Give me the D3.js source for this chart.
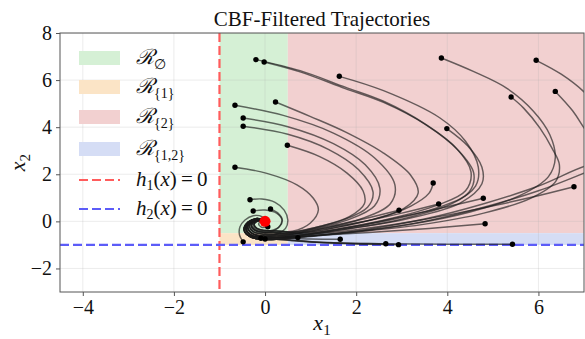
<!DOCTYPE html>
<html>
<head>
<meta charset="utf-8">
<script src="https://cdn.jsdelivr.net/npm/d3@7"></script>
<style>
  body { margin: 0; background: #fff; }
  svg text { font-family: "Liberation Serif", "Times New Roman", serif; fill: #111; }
</style>
</head>
<body>
<svg id="chart" width="585" height="339"></svg>
<script>
// ---- data ----
const xTicks = [-4, -2, 0, 2, 4, 6];
const yTicks = [-2, 0, 2, 4, 6, 8];

// regions: subscripts and their boxes in data coords
const regionLabels = ["\u2205", "{1}", "{2}", "{1,2}"];
const regionX = [[-1, 0.5], [-1, 0.5], [0.5, 7], [0.5, 7]];
const regionY = [[-0.5, 8], [-1, -0.5], [-0.5, 8], [-1, -0.5]];

// barrier lines h1(x)=0 (x1 = -1) and h2(x)=0 (x2 = -1)
const h1Line = -1;
const h2Line = -1;

// endings around the equilibrium, outermost loop first
const tail1 = [[0.25, -0.76], [0.0, -0.77], [-0.32, -0.66], [-0.46, -0.35], [-0.37, -0.03], [-0.17, 0.12], [0, 0]];
const tail2 = [[0.25, -0.69], [0.0, -0.7], [-0.3, -0.59], [-0.42, -0.3], [-0.33, -0.01], [-0.14, 0.1], [0, 0]];
const tail3 = [[0.25, -0.62], [0.0, -0.63], [-0.28, -0.52], [-0.38, -0.25], [-0.28, 0.0], [-0.11, 0.08], [0, 0]];
const tail4 = [[0.25, -0.55], [0.0, -0.55], [-0.25, -0.45], [-0.34, -0.2], [-0.24, 0.01], [-0.08, 0.06], [0, 0]];
const tail5 = [[0.25, -0.48], [0.0, -0.47], [-0.22, -0.37], [-0.3, -0.15], [-0.2, 0.02], [-0.06, 0.04], [0, 0]];
const tail6 = [[0.25, -0.41], [0.0, -0.39], [-0.18, -0.3], [-0.24, -0.12], [-0.15, 0.02], [-0.04, 0.03], [0, 0]];

// trajectories: first point is the start (black dot)
const trajUpperLeft = [
  [[-0.2, 6.87], [0.77, 6.4], [1.76, 5.7], [2.6, 5.1], [3.5, 4.15], [4.2, 3.1], [4.52, 2.1], [4.4, 1.3], [3.8, 0.7], [2.6, 0.05], [1.5, -0.35], [0.7, -0.6]],
  [[-0.02, 6.77], [0.77, 6.35], [1.76, 5.64], [2.6, 5.05], [3.55, 4.08], [4.25, 3.0], [4.58, 2.05], [4.48, 1.25], [3.85, 0.62], [2.6, 0.0], [1.5, -0.38], [0.7, -0.6]],
  [[1.63, 6.16], [2.6, 5.55], [3.84, 4.39], [4.4, 3.4], [4.68, 2.3], [4.62, 1.5], [4.1, 0.75], [2.9, 0.05], [1.7, -0.35], [0.7, -0.62]],
  [[0.23, 5.07], [1.0, 4.45], [1.76, 3.8], [2.6, 2.9], [3.2, 1.95], [3.36, 1.2], [3.05, 0.55], [2.2, 0.0], [1.3, -0.35], [0.6, -0.55]],
  [[-0.66, 4.93], [0.4, 4.5], [1.5, 3.75], [2.4, 2.7], [2.85, 1.55], [2.75, 0.75], [2.1, 0.1], [1.2, -0.33], [0.6, -0.55]],
  [[-0.48, 4.39], [0.5, 4.02], [1.5, 3.3], [2.2, 2.4], [2.52, 1.4], [2.4, 0.65], [1.8, 0.05], [1.0, -0.35], [0.55, -0.55]],
  [[-0.48, 4.04], [0.5, 3.7], [1.4, 3.05], [2.05, 2.2], [2.37, 1.25], [2.25, 0.6], [1.7, 0.05], [1.0, -0.3], [0.55, -0.48]],
  [[0.49, 3.23], [1.2, 2.75], [1.8, 2.05], [2.15, 1.3], [2.18, 0.75], [1.85, 0.2], [1.2, -0.22], [0.55, -0.48]],
  [[-0.66, 2.30], [0.04, 2.04], [0.70, 1.55], [1.06, 0.98], [1.17, 0.48], [0.99, -0.08], [0.6, -0.42]]
];
const tailsUpperLeft = [tail2, tail3, tail2, tail4, tail3, tail5, tail4, tail5, tail6];

const trajUpperRight = [
  [[3.87, 6.94], [4.57, 6.37], [5.30, 5.66], [5.89, 4.68], [6.25, 3.68], [6.37, 2.7], [6.22, 1.9], [5.6, 1.1], [4.5, 0.4], [3.2, -0.12], [2.0, -0.42], [0.9, -0.62]],
  [[5.40, 5.28], [5.67, 4.82], [6.03, 3.97], [6.3, 3.1], [6.46, 2.4], [6.38, 1.7], [5.85, 1.0], [4.8, 0.35], [3.4, -0.15], [2.0, -0.45], [0.9, -0.64]],
  [[5.95, 6.84], [6.5, 6.25], [7.0, 5.5], [7.5, 4.4], [7.8, 3.3], [7.55, 2.6], [7.0, 2.33], [6.0, 1.5], [4.8, 0.75], [3.5, 0.1], [2.2, -0.35], [1.0, -0.62]],
  [[6.37, 5.52], [6.75, 4.7], [7.0, 3.97], [7.35, 3.0], [7.3, 2.3], [7.0, 2.05], [6.0, 1.3], [4.8, 0.6], [3.5, 0.0], [2.2, -0.4], [1.0, -0.64]],
  [[3.99, 3.94], [4.45, 3.2], [4.76, 2.3], [4.76, 1.6], [4.3, 0.8], [3.1, 0.1], [1.9, -0.3], [0.8, -0.6]]
];
const tailsUpperRight = [tail2, tail1, tail2, tail1, tail3];

const trajLowerRight = [
  [[3.69, 1.63], [3.6, 1.2], [3.2, 0.65], [2.5, 0.15], [1.6, -0.2], [0.7, -0.5]],
  [[6.78, 1.47], [5.8, 1.0], [4.6, 0.5], [3.4, 0.05], [2.2, -0.3], [1.0, -0.55]],
  [[4.79, 0.98], [4.0, 0.62], [3.0, 0.2], [2.0, -0.2], [0.9, -0.52]],
  [[3.81, 0.74], [3.0, 0.35], [2.0, -0.08], [0.9, -0.48]],
  [[2.94, 0.47], [2.2, 0.12], [1.4, -0.22], [0.7, -0.45]],
  [[4.83, -0.10], [3.6, -0.3], [2.52, -0.44], [1.5, -0.56], [0.7, -0.66]],
  [[2.65, -0.95], [1.8, -0.93], [1.0, -0.88], [0.5, -0.8]],
  [[2.93, -0.99], [2.0, -0.96], [1.2, -0.9], [0.55, -0.8]],
  [[5.43, -0.97], [4.0, -0.97], [2.5, -0.95], [1.2, -0.89], [0.55, -0.78]],
  [[0.72, -0.69], [0.5, -0.72]],
  [[1.65, -0.76], [1.0, -0.75], [0.55, -0.72]]
];
const tailsLowerRight = [tail4, tail3, tail5, tail6, tail6, tail2, tail1, tail1, tail1, tail2, tail1];

// starts close to the equilibrium (full paths)
const trajNear = [
  [[-0.33, 0.92], [-0.07, 0.95], [0.22, 0.81], [0.42, 0.48], [0.5, 0.06], [0.45, -0.3], [0.22, -0.56], [-0.05, -0.62], [-0.3, -0.48], [-0.38, -0.2], [-0.25, 0.05], [-0.08, 0.08], [0, 0]],
  [[-0.26, 0.44], [0.0, 0.48], [0.26, 0.34], [0.37, 0.06], [0.3, -0.25], [0.1, -0.45], [-0.15, -0.45], [-0.3, -0.25], [-0.22, 0.0], [-0.06, 0.05], [0, 0]],
  [[0.12, 0.53], [0.29, 0.34], [0.38, 0.06], [0.32, -0.22], [0.12, -0.4], [-0.12, -0.4], [-0.26, -0.2], [-0.18, 0.0], [0, 0]],
  [[-0.48, -0.87], [-0.56, -0.58], [-0.55, -0.23], [-0.44, 0.06], [-0.26, 0.24], [-0.07, 0.2], [0, 0]],
  [[0.06, -0.23], [-0.08, -0.25], [-0.14, -0.1], [-0.06, 0.02], [0, 0]],
  [[-0.09, -0.72], [-0.32, -0.58], [-0.4, -0.28], [-0.3, 0.0], [-0.1, 0.07], [0, 0]],
  [[0, -0.75], [-0.28, -0.64], [-0.42, -0.32], [-0.33, -0.02], [-0.14, 0.1], [0, 0]]
];

const equilibrium = [0, 0];

// ---- drawing ----
const plotLeft = 60, plotRight = 584, plotTop = 33, plotBottom = 292;
const regionColors = ["#d5f0d5", "#fbe4c6", "#f2d0d0", "#d5ddf5"];
const serif = "'Liberation Serif', 'Times New Roman', serif";

const svg = d3.select("#chart");
const x = d3.scaleLinear().domain([-4.5, 7]).range([plotLeft, plotRight]);
const y = d3.scaleLinear().domain([-3, 8]).range([plotBottom, plotTop]);

svg.append("defs").append("clipPath").attr("id", "plotClip")
  .append("rect").attr("x", plotLeft).attr("y", plotTop)
  .attr("width", plotRight - plotLeft).attr("height", plotBottom - plotTop);

const plot = svg.append("g").attr("clip-path", "url(#plotClip)");

// shaded regions
regionLabels.forEach((lab, i) => {
  plot.append("rect")
    .attr("x", x(regionX[i][0]))
    .attr("y", y(regionY[i][1]))
    .attr("width", x(regionX[i][1]) - x(regionX[i][0]))
    .attr("height", y(regionY[i][0]) - y(regionY[i][1]))
    .attr("fill", regionColors[i]);
});

// grid
plot.append("g").selectAll("line").data(xTicks).join("line")
  .attr("x1", d => x(d)).attr("x2", d => x(d))
  .attr("y1", plotTop).attr("y2", plotBottom)
  .attr("stroke", "#b0b0b0").attr("stroke-opacity", 0.3).attr("stroke-width", 0.8);
plot.append("g").selectAll("line").data(yTicks).join("line")
  .attr("y1", d => y(d)).attr("y2", d => y(d))
  .attr("x1", plotLeft).attr("x2", plotRight)
  .attr("stroke", "#b0b0b0").attr("stroke-opacity", 0.3).attr("stroke-width", 0.8);

// barrier lines
plot.append("line")
  .attr("x1", x(h1Line)).attr("x2", x(h1Line)).attr("y1", plotTop).attr("y2", plotBottom)
  .attr("stroke", "#ff5c5c").attr("stroke-width", 2.2).attr("stroke-dasharray", "9,4");
plot.append("line")
  .attr("x1", plotLeft).attr("x2", plotRight).attr("y1", y(h2Line)).attr("y2", y(h2Line))
  .attr("stroke", "#5c5cf8").attr("stroke-width", 2.2).attr("stroke-dasharray", "9,4");

// trajectories
const lineGen = d3.line()
  .x(d => x(d[0])).y(d => y(d[1]))
  .curve(d3.curveCatmullRom.alpha(0.5));

const allTraj = [];
trajUpperLeft.forEach((t, i) => allTraj.push(t.concat(tailsUpperLeft[i])));
trajUpperRight.forEach((t, i) => allTraj.push(t.concat(tailsUpperRight[i])));
trajLowerRight.forEach((t, i) => allTraj.push(t.concat(tailsLowerRight[i])));
trajNear.forEach(t => allTraj.push(t));

plot.append("g").selectAll("path").data(allTraj).join("path")
  .attr("d", lineGen)
  .attr("fill", "none")
  .attr("stroke", "#1a1a1a")
  .attr("stroke-opacity", 0.65)
  .attr("stroke-width", 1.45);

plot.append("g").selectAll("circle").data(allTraj).join("circle")
  .attr("cx", d => x(d[0][0])).attr("cy", d => y(d[0][1]))
  .attr("r", 2.7).attr("fill", "#000");

plot.append("circle")
  .attr("cx", x(equilibrium[0])).attr("cy", y(equilibrium[1]))
  .attr("r", 5.5).attr("fill", "#ff0000");

// frame
svg.append("rect")
  .attr("x", plotLeft).attr("y", plotTop)
  .attr("width", plotRight - plotLeft).attr("height", plotBottom - plotTop)
  .attr("fill", "none").attr("stroke", "#555").attr("stroke-width", 1);

// axes
const xAxis = svg.append("g").attr("transform", `translate(0,${plotBottom})`)
  .call(d3.axisBottom(x).tickValues(xTicks).tickSize(4).tickPadding(4));
const yAxis = svg.append("g").attr("transform", `translate(${plotLeft},0)`)
  .call(d3.axisLeft(y).tickValues(yTicks).tickSize(4).tickPadding(4));
[xAxis, yAxis].forEach(a => {
  a.attr("font-family", null).attr("font-size", null);
  a.select(".domain").remove();
  a.selectAll(".tick line").attr("stroke", "#555");
  a.selectAll(".tick text")
    .style("font-family", serif).style("font-size", "20px").attr("fill", "#111");
});

// title and labels
svg.append("text").attr("x", (plotLeft + plotRight) / 2).attr("y", 26)
  .attr("text-anchor", "middle").style("font-size", "21px")
  .text("CBF-Filtered Trajectories");

const xl = svg.append("text").attr("x", (plotLeft + plotRight) / 2).attr("y", 330)
  .attr("text-anchor", "middle").style("font-size", "22px");
xl.append("tspan").attr("font-style", "italic").text("x");
xl.append("tspan").style("font-size", "15px").attr("dy", 5).text("1");

const yl = svg.append("text")
  .attr("transform", `translate(25,${(plotTop + plotBottom) / 2}) rotate(-90)`)
  .attr("text-anchor", "middle").style("font-size", "22px");
yl.append("tspan").attr("font-style", "italic").text("x");
yl.append("tspan").style("font-size", "15px").attr("dy", 5).text("2");

// legend
const legend = svg.append("g");
const legendRows = [58, 87, 117, 149, 180, 209];
regionLabels.forEach((lab, i) => {
  legend.append("rect")
    .attr("x", 79).attr("y", legendRows[i] - 7)
    .attr("width", 41).attr("height", 14)
    .attr("fill", regionColors[i]);
  const t = legend.append("text").attr("x", 136).attr("y", legendRows[i] + 6)
    .style("font-size", "21px");
  t.append("tspan").style("font-family", "'DejaVu Serif', serif").attr("font-style", "italic").text("\u211B");
  t.append("tspan").style("font-size", "14px").attr("dy", 5).text(lab);
});
const barrierColors = ["#ff5c5c", "#5c5cf8"];
["1", "2"].forEach((k, i) => {
  const yy = legendRows[4 + i];
  legend.append("line")
    .attr("x1", 79).attr("x2", 120).attr("y1", yy).attr("y2", yy)
    .attr("stroke", barrierColors[i]).attr("stroke-width", 2.2).attr("stroke-dasharray", "9,4");
  const t = legend.append("text").attr("x", 136).attr("y", yy + 6).style("font-size", "21px");
  t.append("tspan").attr("font-style", "italic").text("h");
  t.append("tspan").style("font-size", "14px").attr("dy", 4).text(k);
  t.append("tspan").attr("dy", -4).text("(");
  t.append("tspan").attr("font-style", "italic").text("x");
  t.append("tspan").text(")\u2009=\u20090");
});
</script>
</body>
</html>
